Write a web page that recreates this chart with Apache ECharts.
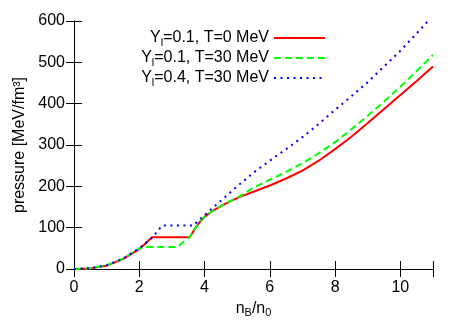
<!DOCTYPE html>
<html>
<head>
<meta charset="utf-8">
<script src="https://cdn.jsdelivr.net/npm/echarts@6/dist/echarts.min.js"></script>
<style>
  html, body { margin: 0; padding: 0; background: #fff; }
  #main { width: 463px; height: 324px; }
</style>
</head>
<body>
<div id="main"></div>
<script>
// [n_B/n_0, pressure]
var yl01T0 = [[0,0],[0.5,1.5],[1,8],[1.5,24],[2,48],[2.39,77],[3.55,77],[3.7,97],[3.87,115],[4,126],[4.2,138],[4.5,152],[4.8,164],[5.1,175],[5.5,187],[6,202],[6.5,219],[7,238],[7.5,262],[8,290],[8.5,320],[9,353],[9.5,387],[10,421],[10.5,455],[11,490]];
var yl01T30 = [[0,0],[0.5,2],[1,9],[1.5,25],[2,50],[2.14,53],[3.16,53],[3.55,78],[3.7,97],[3.87,115],[4,126],[4.2,138],[4.5,152],[4.8,165],[5.1,177],[5.5,197],[6,216],[6.5,235],[7,256],[7.5,280],[8,307],[8.5,338],[9,371],[9.5,405],[10,441],[10.5,479],[11,518]];
var yl04T30 = [[0,0],[0.5,2],[1,9],[1.5,25],[2,50],[2.4,76],[2.7,105],[3.65,105],[4.18,143],[4.5,165],[5,200],[5.5,233],[6,262],[6.5,290],[7,319],[7.5,351],[8,385],[8.5,418],[9,452],[9.5,490],[10,528],[10.5,570],[10.85,600],[11,613]];
var seriesNames = ['Y_l=0.1, T=0 MeV', 'Y_l=0.1, T=30 MeV', 'Y_l=0.4, T=30 MeV'];
var xTicks = [0, 2, 4, 6, 8, 10];
var yTicks = [0, 100, 200, 300, 400, 500, 600];

var chart = echarts.init(document.getElementById('main'));
var font = 'Liberation Sans, Arial, sans-serif';

function legendText(name) {
  var p = name.split('_l');
  return p[0] + '{sub|l}' + p[1];
}

var frameAxis = {
  axisLine: { show: true, lineStyle: { color: '#000', width: 1 } },
  axisTick: { show: true, inside: true, length: 8, lineStyle: { color: '#000' } },
  splitLine: { show: false }
};

var option = {
  animation: false,
  grid: { left: 74, right: 30, top: 21, bottom: 55 },
  legend: {
    orient: 'vertical',
    right: 132,
    top: 25,
    align: 'right',
    itemWidth: 51,
    itemHeight: 14,
    itemGap: 2,
    data: seriesNames,
    formatter: legendText,
    itemStyle: { opacity: 0 },
    textStyle: {
      fontFamily: font, fontSize: 16, color: '#000',
      rich: { sub: { fontFamily: font, fontSize: 11, color: '#000', padding: [9, 0, 0, 0] } }
    }
  },
  xAxis: [
    Object.assign({
      type: 'value', min: 0, max: 11, interval: 2,
      name: 'n{sub|B}/n{sub|0}', nameLocation: 'middle', nameGap: 25,
      nameTextStyle: {
        fontFamily: font, fontSize: 16, color: '#000',
        rich: { sub: { fontFamily: font, fontSize: 11, color: '#000', padding: [9, 0, 0, 0] } }
      },
      axisLabel: {
        fontFamily: font, fontSize: 16, color: '#000', margin: 11,
        formatter: function (v) { return xTicks.indexOf(v) >= 0 ? String(v) : ''; }
      }
    }, frameAxis),
    Object.assign({
      type: 'value', min: 0, max: 11, interval: 2, position: 'top',
      axisLabel: { show: false }
    }, frameAxis)
  ],
  yAxis: [
    Object.assign({
      type: 'value', min: 0, max: 600, interval: 100,
      name: 'pressure [MeV/fm³]', nameLocation: 'middle', nameGap: 46, nameRotate: 90,
      nameTextStyle: { fontFamily: font, fontSize: 16, color: '#000' },
      axisLabel: {
        fontFamily: font, fontSize: 16, color: '#000', margin: 9,
        formatter: function (v) { return yTicks.indexOf(v) >= 0 ? String(v) : ''; }
      }
    }, frameAxis),
    Object.assign({
      type: 'value', min: 0, max: 600, interval: 100, position: 'right',
      axisLabel: { show: false }
    }, frameAxis)
  ],
  series: [
    {
      name: seriesNames[0], type: 'line', data: yl01T0, symbol: 'none',
      lineStyle: { color: '#ff0000', width: 2, type: 'solid' },
      itemStyle: { color: '#ff0000' }, z: 3
    },
    {
      name: seriesNames[1], type: 'line', data: yl01T30, symbol: 'none',
      lineStyle: { color: '#00ff00', width: 2, type: [7, 4] },
      itemStyle: { color: '#00ff00' }, z: 4
    },
    {
      name: seriesNames[2], type: 'line', data: yl04T30, symbol: 'none',
      lineStyle: { color: '#0000ff', width: 2, type: [2, 4.5] },
      itemStyle: { color: '#0000ff' }, z: 5
    }
  ]
};
chart.setOption(option);
</script>
</body>
</html>
